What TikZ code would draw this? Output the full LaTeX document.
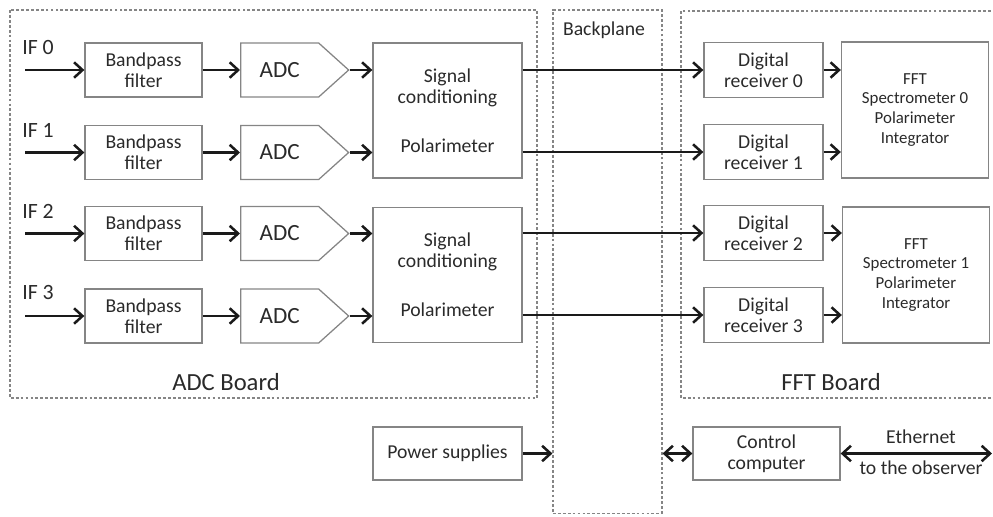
\documentclass[tikz,border=0pt]{standalone}
\usepackage{fontspec}
\setmainfont{Carlito}
\usetikzlibrary{arrows.meta,shapes.symbols}
\definecolor{boxgray}{HTML}{858585}
\definecolor{txtgray}{HTML}{2A2A2A}
\definecolor{wiregray}{HTML}{1A1A1A}
\tikzset{
  block/.style={draw=boxgray, line width=0.9pt, text=txtgray, align=center,
    inner sep=0pt, font=\fontsize{14}{15}\selectfont},
  filterbox/.style={block, minimum width=2.925cm, minimum height=1.35cm},
  adcbox/.style={block, signal, signal to=east, signal pointer angle=84,
    minimum width=2.7cm, minimum height=1.35cm, font=\fontsize{16.5}{18}\selectfont},
  condbox/.style={block, minimum width=3.725cm, minimum height=3.375cm},
  rxbox/.style={block, minimum width=2.975cm, minimum height=1.375cm},
  fftbox/.style={block, minimum width=3.675cm, minimum height=3.4cm,
    font=\fontsize{12}{14.2}\selectfont},
  inlabel/.style={anchor=west, text=txtgray, inner sep=0pt, font=\fontsize{15.5}{17}\selectfont},
  boardlabel/.style={text=txtgray, inner sep=0pt, font=\fontsize{17.5}{19}\selectfont},
  plainlabel/.style={text=txtgray, inner sep=0pt, font=\fontsize{14}{15}\selectfont},
  board/.style={draw=boxgray, line width=0.8pt, dash pattern=on 2pt off 1.5pt},
  wire/.style={draw=wiregray, line width=1.8pt, -{Straight Barb[length=6pt,width=11pt]}},
  biwire/.style={wire, {Straight Barb[length=6pt,width=11pt]}-{Straight Barb[length=6pt,width=11pt]}},
}
\begin{document}
\begin{tikzpicture}[x=0.025cm, y=-0.025cm]
    \useasboundingbox (0,0) rectangle (993,516);

    % boards and backplane
    \draw[board] (10,10) rectangle (537,398);
    \draw[board] (681,11) rectangle (1000,398);
    \node[board, minimum width=2.725cm, minimum height=12.575cm] (bp) at (607.5,261.5) {};
    \node[plainlabel] (bplabel) at (604,30) {Backplane};
    \node[boardlabel] (adclabel) at (226,382) {ADC Board};
    \node[boardlabel] (fftlabel) at (831,382) {FFT Board};

    % inputs
    \node[inlabel] (if0) at (22,47) {IF 0};
    \node[inlabel] (if1) at (22,130) {IF 1};
    \node[inlabel] (if2) at (22,211) {IF 2};
    \node[inlabel] (if3) at (22,292) {IF 3};
    \coordinate (in0) at (25,70);
    \coordinate (in1) at (25,152.5);
    \coordinate (in2) at (25,233.5);
    \coordinate (in3) at (25,316);

    % ADC board
    \node[filterbox] (bpf0) at (143.5,70) {Bandpass\\filter};
    \node[filterbox] (bpf1) at (143.5,152.5) {Bandpass\\filter};
    \node[filterbox] (bpf2) at (143.5,233.5) {Bandpass\\filter};
    \node[filterbox] (bpf3) at (143.5,316) {Bandpass\\filter};
    \node[adcbox, anchor=west] (adc0) at (240,70) {ADC};
    \node[adcbox, anchor=west] (adc1) at (240,152.5) {ADC};
    \node[adcbox, anchor=west] (adc2) at (240,233.5) {ADC};
    \node[adcbox, anchor=west] (adc3) at (240,316) {ADC};
    \node[condbox] (sc0) at (447.5,110.5) {Signal\\conditioning\\[20pt]Polarimeter};
    \node[condbox] (sc1) at (447.5,275) {Signal\\conditioning\\[20pt]Polarimeter};

    % FFT board
    \node[rxbox] (rx0) at (763.5,70) {Digital\\receiver 0};
    \node[rxbox] (rx1) at (763.5,152) {Digital\\receiver 1};
    \node[rxbox] (rx2) at (763.5,233) {Digital\\receiver 2};
    \node[rxbox] (rx3) at (763.5,315) {Digital\\receiver 3};
    \node[fftbox] (fft0) at (915,110) {FFT\\Spectrometer 0\\Polarimeter\\Integrator};
    \node[fftbox] (fft1) at (916,275) {FFT\\Spectrometer 1\\Polarimeter\\Integrator};

    % support
    \node[block, minimum width=3.725cm, minimum height=1.325cm] (ps) at (447.5,453.5) {Power supplies};
    \node[block, minimum width=3.675cm, minimum height=1.325cm] (cc) at (766.5,453.5) {Control\\computer};
    \coordinate (obs) at (992,453.5);
    \node[plainlabel] (eth) at (921,437) {Ethernet};
    \node[plainlabel] (ethobs) at (921,468) {to the observer};

    % signal path
    \draw[wire] (in0) -- (bpf0);
    \draw[wire] (in1) -- (bpf1);
    \draw[wire] (in2) -- (bpf2);
    \draw[wire] (in3) -- (bpf3);
    \draw[wire] (bpf0) -- (bpf0 -| adc0.west);
    \draw[wire] (bpf1) -- (bpf1 -| adc1.west);
    \draw[wire] (bpf2) -- (bpf2 -| adc2.west);
    \draw[wire] (bpf3) -- (bpf3 -| adc3.west);
    \draw[wire] (adc0.east) -- (adc0.east -| sc0.west);
    \draw[wire] (adc1.east) -- (adc1.east -| sc0.west);
    \draw[wire] (adc2.east) -- (adc2.east -| sc1.west);
    \draw[wire] (adc3.east) -- (adc3.east -| sc1.west);
    \draw[wire] (sc0.east |- rx0) -- (rx0);
    \draw[wire] (sc0.east |- rx1) -- (rx1);
    \draw[wire] (sc1.east |- rx2) -- (rx2);
    \draw[wire] (sc1.east |- rx3) -- (rx3);
    \draw[wire] (rx0) -- (rx0 -| fft0.west);
    \draw[wire] (rx1) -- (rx1 -| fft0.west);
    \draw[wire] (rx2) -- (rx2 -| fft1.west);
    \draw[wire] (rx3) -- (rx3 -| fft1.west);

    % power and control
    \draw[wire] (ps) -- (ps -| bp.west);
    \draw[biwire] (cc -| bp.east) -- (cc);
    \draw[biwire] (cc) -- (obs);
\end{tikzpicture}
\end{document}
